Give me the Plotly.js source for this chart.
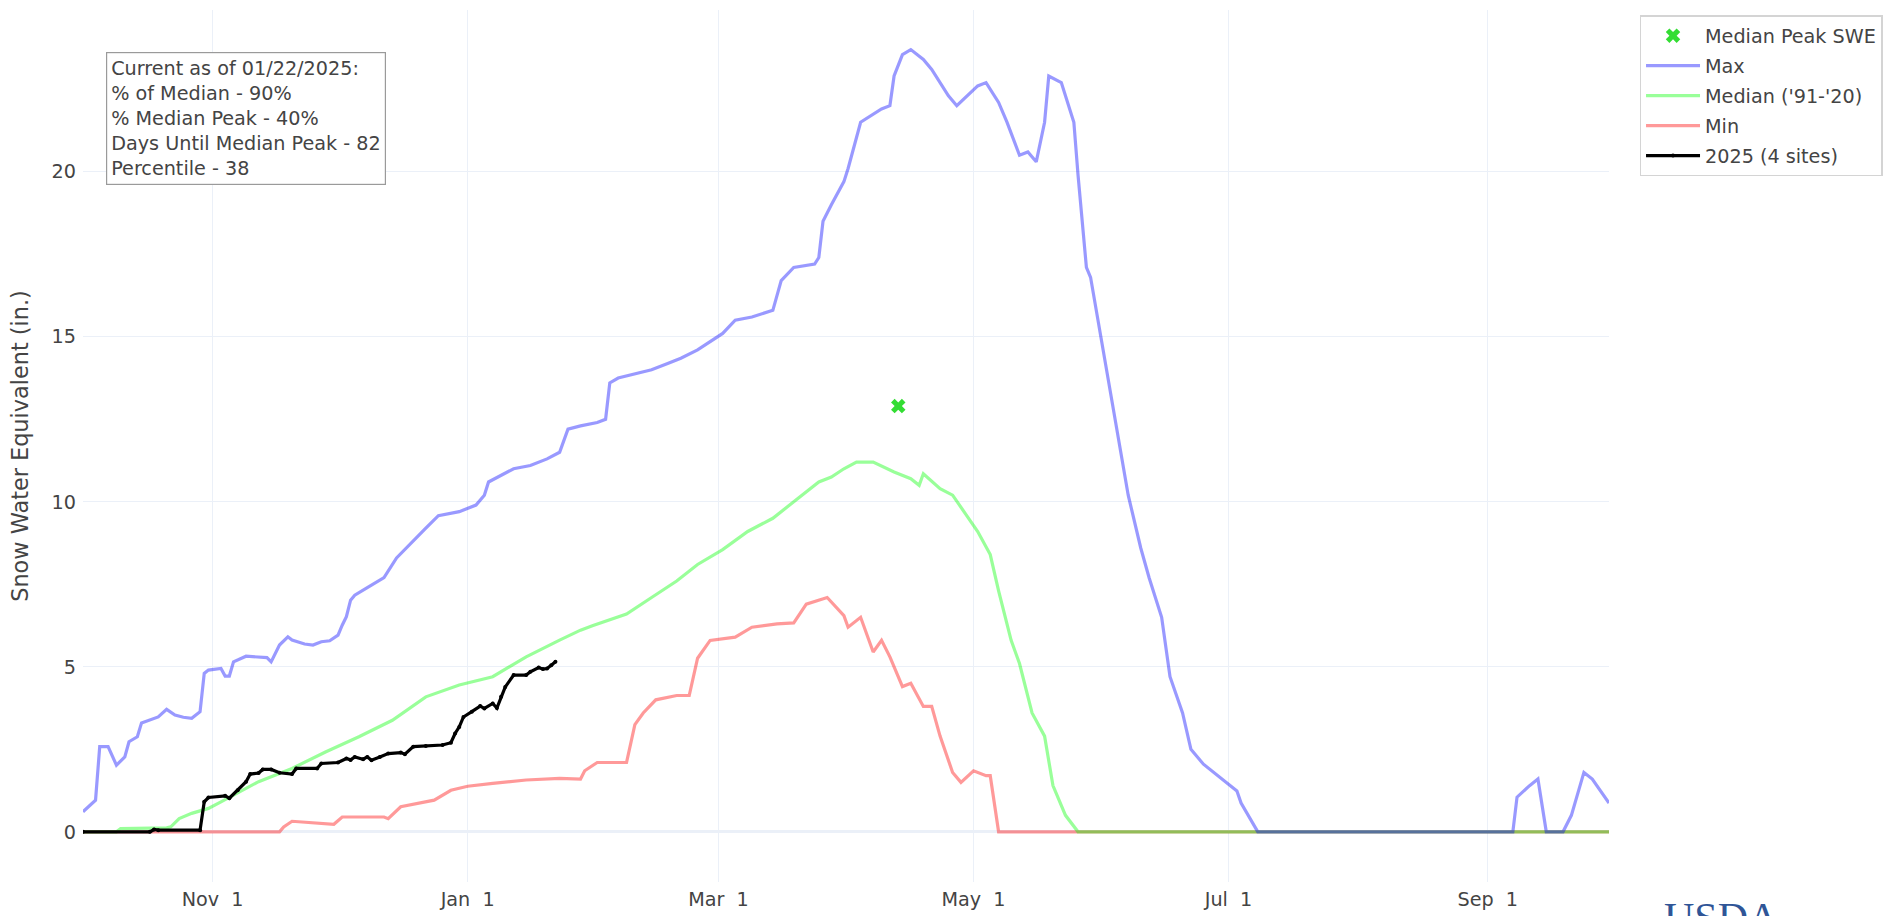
<!DOCTYPE html>
<html>
<head>
<meta charset="utf-8">
<script src="https://cdn.plot.ly/plotly-3.0.1.min.js"></script>
<style>html,body{margin:0;padding:0;background:#fff;}#chart{width:1893px;height:916px;}</style>
</head>
<body>
<div id="chart"></div>
<script>
// Day of water year (0 = Oct 1) and snow water equivalent (in.)
const maxDays = [0,3,4,6,8,10,11,13,14,16,18,20,22,24,26,28,29,30,33,34,35,36,38,39,44,45,47,49,50,53,55,57,59,61,62,63,64,65,68,72,75,78,82,85,90,94,96,97,100,103,107,111,114,116,119,123,125,126,128,136,140,143,147,150,153,156,160,165,167,170,175,176,177,179,182,183,186,191,193,194,196,198,201,203,207,209,214,216,219,221,224,226,228,230,231,234,237,238,240,241,244,247,250,253,255,258,260,263,265,268,273,276,277,280,281,342,343,346,348,350,354,356,359,361,363,365];
const maxVals = [0.61,0.96,2.58,2.58,2.02,2.27,2.73,2.88,3.30,3.38,3.48,3.71,3.54,3.47,3.44,3.64,4.8,4.9,4.95,4.72,4.72,5.15,5.25,5.32,5.28,5.15,5.66,5.91,5.81,5.69,5.66,5.76,5.79,5.96,6.26,6.52,7.02,7.17,7.4,7.7,8.3,8.7,9.2,9.58,9.7,9.9,10.2,10.6,10.8,11.0,11.1,11.3,11.5,12.2,12.3,12.4,12.5,13.6,13.75,14.0,14.2,14.35,14.6,14.85,15.1,15.5,15.6,15.8,16.7,17.1,17.2,17.4,18.5,19.0,19.7,20.1,21.5,21.9,22.0,22.9,23.55,23.7,23.4,23.1,22.3,22.0,22.6,22.7,22.1,21.5,20.5,20.6,20.3,21.5,22.9,22.7,21.5,19.9,17.1,16.8,14.6,12.4,10.2,8.6,7.7,6.5,4.7,3.6,2.5,2.05,1.53,1.24,0.87,0.2,0,0,1.05,1.4,1.6,0,0,0.5,1.8,1.6,1.24,0.87];

const medDays = [0,8,9,20,21,23,26,30,33,38,42,50,58,66,74,82,90,98,106,114,119,122,130,136,142,147,153,159,165,170,176,179,182,185,189,194,198,200,201,205,208,211,214,217,219,222,224,227,230,232,235,238,365];
const medVals = [0,0,0.1,0.12,0.15,0.4,0.56,0.71,0.91,1.26,1.52,1.92,2.42,2.88,3.38,4.09,4.45,4.7,5.3,5.81,6.11,6.25,6.6,7.1,7.6,8.1,8.55,9.1,9.5,10.0,10.6,10.75,11.0,11.2,11.2,10.9,10.7,10.5,10.85,10.4,10.2,9.65,9.1,8.4,7.3,5.8,5.1,3.6,2.9,1.4,0.5,0,0];

const minDays = [0,47,48,50,60,62,72,73,76,84,88,92,98,106,114,119,120,123,130,132,134,137,142,145,147,150,156,160,166,170,173,178,182,183,186,189,191,193,196,198,201,203,205,208,210,213,216,217,219,365];
const minVals = [0,0,0.15,0.32,0.23,0.45,0.45,0.4,0.76,0.96,1.26,1.38,1.47,1.57,1.62,1.6,1.85,2.1,2.1,3.25,3.6,4.0,4.13,4.13,5.26,5.8,5.9,6.2,6.3,6.33,6.9,7.1,6.55,6.2,6.5,5.45,5.8,5.3,4.4,4.5,3.8,3.8,2.9,1.8,1.5,1.85,1.7,1.7,0,0];

const curDays = [0,16,17,18,28,29,30,34,35,37,39,40,42,43,45,47,50,51,56,57,61,63,64,65,67,68,69,71,73,76,77,79,82,86,88,89,90,91,93,95,96,98,99,100,101,103,106,107,109,110,111,112,113];
const curVals = [0,0,0.07,0.05,0.05,0.91,1.04,1.09,1.02,1.26,1.52,1.75,1.78,1.89,1.89,1.79,1.75,1.92,1.92,2.07,2.1,2.22,2.18,2.27,2.2,2.27,2.17,2.27,2.37,2.4,2.35,2.58,2.6,2.63,2.7,2.98,3.18,3.48,3.64,3.81,3.74,3.89,3.75,4.09,4.39,4.75,4.75,4.85,4.98,4.93,4.95,5.05,5.15];

const peakDay = [195];
const peakVal = [12.9];

const seriesNames = ["Median Peak SWE", "Max", "Median ('91-'20)", "Min", "2025 (4 sites)"];
const infoLines = ["Current as of 01/22/2025:", "% of Median - 90%", "% Median Peak - 40%", "Days Until Median Peak - 82", "Percentile - 38"];
const yTicks = [0, 5, 10, 15, 20];
const yTitle = 'Snow Water Equivalent (in.)';

// water-year day -> date in a reference (leap) water year
const WY_START = Date.UTC(2023, 9, 1);
function toDates(days) {
  return days.map(d => new Date(WY_START + d * 86400000).toISOString().slice(0, 10));
}

const FONT = 'Verdana, "DejaVu Sans", sans-serif';
const TXT = '#444';
const S = 1.6;

const traces = [
  {x: toDates(minDays), y: minVals, mode: 'lines', name: seriesNames[3], legendrank: 4, legendgroup: 'g4',
   line: {color: 'rgba(255,0,0,0.4)', width: 2 * S}},
  {x: toDates(medDays), y: medVals, mode: 'lines', name: seriesNames[2], legendrank: 3, legendgroup: 'g3',
   line: {color: 'rgba(0,255,0,0.4)', width: 2 * S}},
  {x: toDates(maxDays), y: maxVals, mode: 'lines', name: seriesNames[1], legendrank: 2, legendgroup: 'g2',
   line: {color: 'rgba(0,0,255,0.4)', width: 2 * S}},
  {x: toDates(peakDay), y: peakVal, mode: 'markers', name: seriesNames[0], legendrank: 1, legendgroup: 'g1',
   marker: {symbol: 'x', color: '#33dd33', size: 8 * S}},
  {x: toDates(curDays), y: curVals, mode: 'lines+markers', name: seriesNames[4], legendrank: 5, legendgroup: 'g5',
   line: {color: 'black', width: 2 * S}, marker: {color: 'black', size: 2.5 * S}}
];

const layout = {
  template: 'plotly_white',
  width: 1893, height: 916,
  margin: {l: 83, r: 281, t: 10, b: 34},
  paper_bgcolor: '#fff', plot_bgcolor: '#fff',
  font: {family: FONT, size: 12 * S, color: TXT},
  showlegend: true,
  legend: {x: 1.02, y: 0.994, xanchor: 'left', yanchor: 'top', bgcolor: '#fff', traceorder: 'grouped',
    tracegroupgap: 2, bordercolor: '#d4d4d4', borderwidth: 1.5, font: {size: 12 * S, color: TXT}, itemwidth: 54},
  xaxis: {type: 'date', range: ['2023-10-01', '2024-09-30'], tick0: '2023-11-01', dtick: 'M2',
    tickformat: '%b %e', showgrid: true, gridcolor: '#EBF0F8', gridwidth: 1.3, zeroline: false,
    showline: false, ticks: '', ticklabelstandoff: 4, tickfont: {size: 12 * S, color: TXT}},
  yaxis: {range: [-1.52, 24.9], tickvals: yTicks, showgrid: true, gridcolor: '#EBF0F8', gridwidth: 1.3,
    zeroline: true, zerolinecolor: '#EBF0F8', zerolinewidth: 2 * S, showline: false, ticks: '',
    ticklabelstandoff: 6, tickfont: {size: 12 * S, color: TXT},
    title: {text: yTitle, font: {size: 14 * S, color: TXT}}},
  annotations: [
    {xref: 'paper', yref: 'paper', x: 0.015, y: 0.952, xanchor: 'left', yanchor: 'top', align: 'left',
     text: infoLines.join('<br>'), showarrow: false, bgcolor: '#fff', bordercolor: '#9a9a9a',
     borderwidth: 1.2, borderpad: 4, font: {size: 12 * S, color: TXT}},
    {xref: 'paper', yref: 'paper', x: 1.0347, y: -0.013, xanchor: 'left', yanchor: 'top',
     text: 'USDA', showarrow: false, font: {family: '"Liberation Serif", "DejaVu Serif", serif', size: 42, color: '#2f5597'}}
  ]
};

Plotly.newPlot('chart', traces, layout, {displayModeBar: false, staticPlot: true});
</script>
</body>
</html>
